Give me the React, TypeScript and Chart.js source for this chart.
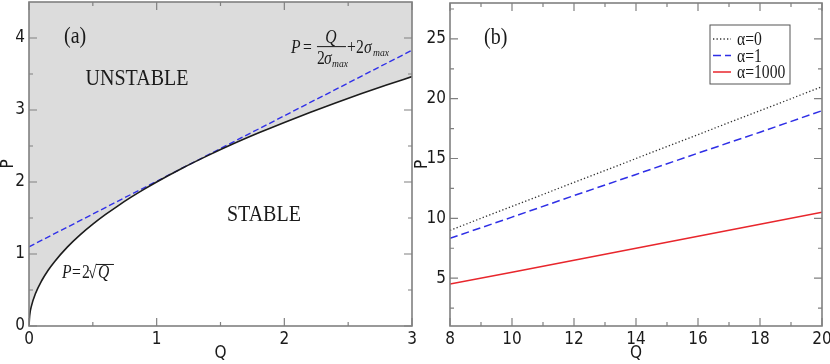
import React, { useEffect, useRef } from "react";
import { Chart, registerables } from "chart.js";
Chart.register(...registerables);

// ---------- Panel (a) data ----------
const qA = [0, 0.005, 0.02, 0.05, 0.1, 0.15, 0.2, 0.3, 0.4, 0.5, 0.6, 0.7, 0.8, 0.9, 1.0, 1.2, 1.4, 1.6, 1.8, 2.0, 2.2, 2.4, 2.6, 2.8, 3.0];
const pThreshold = [0, 0.141, 0.283, 0.447, 0.632, 0.775, 0.894, 1.095, 1.265, 1.414, 1.549, 1.673, 1.789, 1.897, 2.0, 2.191, 2.366, 2.53, 2.683, 2.828, 2.966, 3.098, 3.225, 3.347, 3.464];
const qTangent = [0, 3];
const pTangent = [1.1, 3.83];
const xTicksA = [0, 1, 2, 3];
const xMinorA = [0.5, 1.5, 2.5];
const yTicksA = [0, 1, 2, 3, 4];
const yMinorA = [0.5, 1.5, 2.5, 3.5];

// ---------- Panel (b) data ----------
const qB = [8, 10, 12, 14, 16, 18, 20];
const pAlpha0 = [9, 11, 13, 15, 17, 19, 21];
const pAlpha1 = [8.33, 10.1, 11.9, 13.67, 15.45, 17.2, 19.0];
const pAlpha1000 = [4.5, 5.5, 6.5, 7.5, 8.5, 9.5, 10.5];
const seriesLabelsB = ["α=0", "α=1", "α=1000"];
const xTicksB = [8, 10, 12, 14, 16, 18, 20];
const xMinorB = [9, 11, 13, 15, 17, 19];
const yTicksB = [5, 10, 15, 20, 25];
const yMinorB = [2.5, 7.5, 12.5, 17.5, 22.5, 27.5];

const SANS = "'Liberation Sans Narrow', 'DejaVu Sans Condensed', 'Liberation Sans', sans-serif";
const SERIF = "'Liberation Serif', 'Times New Roman', serif";
const TICK_FONT = { family: SANS, size: 17 };
const FRAME = "#808080";
const TEXT = "#1a1a1a";
const SX = 0.87;

function txt(ctx: CanvasRenderingContext2D, s: string, x: number, y: number, font: string, align: CanvasTextAlign = "left", color = TEXT) {
  ctx.save();
  ctx.translate(x, y);
  ctx.scale(SX, 1);
  ctx.font = font;
  ctx.fillStyle = color;
  ctx.textAlign = align;
  ctx.textBaseline = "alphabetic";
  ctx.fillText(s, 0, 0);
  ctx.restore();
}

function frameAndTicks(chart: any, xMaj: number[], xMin: number[], yMaj: number[], yMin: number[]) {
  const { ctx, chartArea: a } = chart;
  const xs = chart.scales.x;
  const ys = chart.scales.y;
  ctx.save();
  ctx.strokeStyle = FRAME;
  ctx.lineWidth = 1.2;
  const MAJ = 8, MIN = 4;
  const vx = (vals: number[], len: number) => {
    for (const v of vals) {
      const px = xs.getPixelForValue(v);
      ctx.beginPath();
      ctx.moveTo(px, a.bottom); ctx.lineTo(px, a.bottom - len);
      ctx.moveTo(px, a.top); ctx.lineTo(px, a.top + len);
      ctx.stroke();
    }
  };
  const vy = (vals: number[], len: number) => {
    for (const v of vals) {
      const py = ys.getPixelForValue(v);
      ctx.beginPath();
      ctx.moveTo(a.left, py); ctx.lineTo(a.left + len, py);
      ctx.moveTo(a.right, py); ctx.lineTo(a.right - len, py);
      ctx.stroke();
    }
  };
  vx(xMaj, MAJ); vx(xMin, MIN); vy(yMaj, MAJ); vy(yMin, MIN);
  ctx.lineWidth = 1.6;
  ctx.strokeRect(a.left, a.top, a.right - a.left, a.bottom - a.top);
  ctx.restore();
}

function axes(xmin: number, xmax: number, ymin: number, ymax: number, xt: number[], yt: number[], yWidth: number, titlePad: number) {
  return {
    x: {
      type: "linear" as const,
      min: xmin,
      max: xmax,
      afterBuildTicks: (s: any) => { s.ticks = xt.map((v) => ({ value: v })); },
      afterFit: (s: any) => { s.height = 38; s.paddingLeft = 0; s.paddingRight = 0; },
      grid: { display: false, drawTicks: false },
      border: { display: false },
      ticks: { font: TICK_FONT, color: TEXT, padding: 3, maxRotation: 0, autoSkip: false },
      title: { display: true, text: "Q", font: TICK_FONT, color: TEXT, padding: { top: 0, bottom: 0 } },
    },
    y: {
      type: "linear" as const,
      min: ymin,
      max: ymax,
      afterBuildTicks: (s: any) => { s.ticks = yt.map((v) => ({ value: v })); },
      afterFit: (s: any) => { s.width = yWidth; s.paddingTop = 0; s.paddingBottom = 0; },
      grid: { display: false, drawTicks: false },
      border: { display: false },
      ticks: { font: TICK_FONT, color: TEXT, padding: 4, autoSkip: false },
      title: { display: true, text: "P", font: TICK_FONT, color: TEXT, padding: { top: titlePad, bottom: 0 } },
    },
  };
}

function PanelA() {
  const ref = useRef<HTMLCanvasElement>(null);
  useEffect(() => {
    const annot = {
      id: "annotA",
      afterDraw(chart: any) {
        const { ctx } = chart;
        const xs = chart.scales.x, ys = chart.scales.y;
        const X = (v: number) => xs.getPixelForValue(v);
        const Y = (v: number) => ys.getPixelForValue(v);
        frameAndTicks(chart, xTicksA, xMinorA, yTicksA, yMinorA);
        const big = `23px ${SERIF}`;
        txt(ctx, "(a)", X(0.274), Y(3.93), big);
        txt(ctx, "UNSTABLE", X(0.846), Y(3.35), big, "center");
        txt(ctx, "STABLE", X(1.84), Y(1.458), big, "center");
        const it = `italic 18px ${SERIF}`;
        const up = `18px ${SERIF}`;
        const sm = `italic 11px ${SERIF}`;
        // P = Q/(2σmax) + 2σmax
        const x0 = X(2.052), y0 = Y(3.79);
        txt(ctx, "P", x0, y0, it);
        txt(ctx, "=", x0 + 12, y0, up);
        ctx.save();
        ctx.strokeStyle = TEXT; ctx.lineWidth = 1;
        ctx.beginPath(); ctx.moveTo(x0 + 26, y0 - 6.5); ctx.lineTo(x0 + 55, y0 - 6.5); ctx.stroke();
        ctx.restore();
        txt(ctx, "Q", x0 + 40, y0 - 10, it, "center");
        txt(ctx, "2", x0 + 26, y0 + 11, up);
        txt(ctx, "σ", x0 + 33, y0 + 11, it);
        txt(ctx, "max", x0 + 41, y0 + 14, sm);
        txt(ctx, "+", x0 + 56, y0, up);
        txt(ctx, "2", x0 + 65, y0, up);
        txt(ctx, "σ", x0 + 73, y0, it);
        txt(ctx, "max", x0 + 82, y0 + 3, sm);
        // P = 2√Q
        const x1 = X(0.258), y1 = Y(0.667);
        txt(ctx, "P", x1, y1, it);
        txt(ctx, "=", x1 + 10, y1, up);
        txt(ctx, "2", x1 + 20, y1, up);
        txt(ctx, "√", x1 + 26, y1, up);
        txt(ctx, "Q", x1 + 36, y1, it);
        ctx.save();
        ctx.strokeStyle = TEXT; ctx.lineWidth = 1;
        ctx.beginPath(); ctx.moveTo(x1 + 34, y1 - 13.5); ctx.lineTo(x1 + 52, y1 - 13.5); ctx.stroke();
        ctx.restore();
      },
    };
    const chart = new Chart(ref.current!, {
      type: "line",
      data: {
        datasets: [
          {
            label: "P = 2√Q",
            data: qA.map((q, i) => ({ x: q, y: pThreshold[i] })),
            borderColor: "#1c1c1c",
            borderWidth: 1.6,
            pointRadius: 0,
            fill: "end",
            backgroundColor: "#dcdcdc",
            cubicInterpolationMode: "monotone",
          },
          {
            label: "P = Q/(2σmax) + 2σmax",
            data: qTangent.map((q, i) => ({ x: q, y: pTangent[i] })),
            borderColor: "#3030e8",
            borderWidth: 1.4,
            borderDash: [6, 3],
            pointRadius: 0,
            fill: false,
          },
        ],
      },
      options: {
        animation: false,
        responsive: false,
        devicePixelRatio: 1,
        layout: { autoPadding: false, padding: { top: 2, right: 8, left: 0, bottom: 0 } } as any,
        plugins: { legend: { display: false }, tooltip: { enabled: false }, filler: { drawTime: "beforeDatasetsDraw" } } as any,
        scales: axes(0, 3, 0, 4.5, xTicksA, yTicksA, 29, -2) as any,
      },
      plugins: [annot],
    });
    return () => chart.destroy();
  }, []);
  return <canvas ref={ref} width={420} height={364} style={{ position: "absolute", left: 0, top: 0, width: 420, height: 364 }} />;
}

function PanelB() {
  const ref = useRef<HTMLCanvasElement>(null);
  useEffect(() => {
    const annot = {
      id: "annotB",
      afterDraw(chart: any) {
        const { ctx, chartArea: a } = chart;
        const xs = chart.scales.x, ys = chart.scales.y;
        frameAndTicks(chart, xTicksB, xMinorB, yTicksB, yMinorB);
        txt(ctx, "(b)", xs.getPixelForValue(9.1), ys.getPixelForValue(24.6), `23px ${SERIF}`);
        // legend box
        const bx = a.right - 112, by = a.top + 22, bw = 80, bh = 59;
        ctx.save();
        ctx.fillStyle = "#ffffff";
        ctx.fillRect(bx, by, bw, bh);
        ctx.strokeStyle = "#555555";
        ctx.lineWidth = 1;
        ctx.strokeRect(bx, by, bw, bh);
        chart.data.datasets.forEach((ds: any, i: number) => {
          const base = by + 20 + i * 16.5;
          ctx.save();
          ctx.strokeStyle = ds.borderColor;
          ctx.lineWidth = ds.borderWidth;
          ctx.setLineDash(ds.borderDash || []);
          ctx.beginPath();
          ctx.moveTo(bx + 3, base - 6);
          ctx.lineTo(bx + 21, base - 6);
          ctx.stroke();
          ctx.restore();
          txt(ctx, ds.label, bx + 27, base, `18px ${SERIF}`);
        });
        ctx.restore();
      },
    };
    const chart = new Chart(ref.current!, {
      type: "line",
      data: {
        datasets: [
          {
            label: seriesLabelsB[0],
            data: qB.map((q, i) => ({ x: q, y: pAlpha0[i] })),
            borderColor: "#333333",
            borderWidth: 1.3,
            borderDash: [1.3, 2.2],
            pointRadius: 0,
          },
          {
            label: seriesLabelsB[1],
            data: qB.map((q, i) => ({ x: q, y: pAlpha1[i] })),
            borderColor: "#2f2fe6",
            borderWidth: 1.5,
            borderDash: [8, 4],
            pointRadius: 0,
          },
          {
            label: seriesLabelsB[2],
            data: qB.map((q, i) => ({ x: q, y: pAlpha1000[i] })),
            borderColor: "#e8262c",
            borderWidth: 1.5,
            pointRadius: 0,
          },
        ],
      },
      options: {
        animation: false,
        responsive: false,
        devicePixelRatio: 1,
        layout: { autoPadding: false, padding: { top: 3, right: 8, left: 0, bottom: 0 } } as any,
        plugins: { legend: { display: false }, tooltip: { enabled: false } },
        scales: axes(8, 20, 1, 28, xTicksB, yTicksB, 40, 2) as any,
      },
      plugins: [annot],
    });
    return () => chart.destroy();
  }, []);
  return <canvas ref={ref} width={420} height={364} style={{ position: "absolute", left: 410, top: 0, width: 420, height: 364 }} />;
}

export default function App() {
  useEffect(() => {
    document.body.style.margin = "0";
  }, []);
  return (
    <div style={{ position: "relative", width: 830, height: 364, background: "#ffffff", overflow: "hidden" }}>
      <PanelA />
      <PanelB />
    </div>
  );
}
